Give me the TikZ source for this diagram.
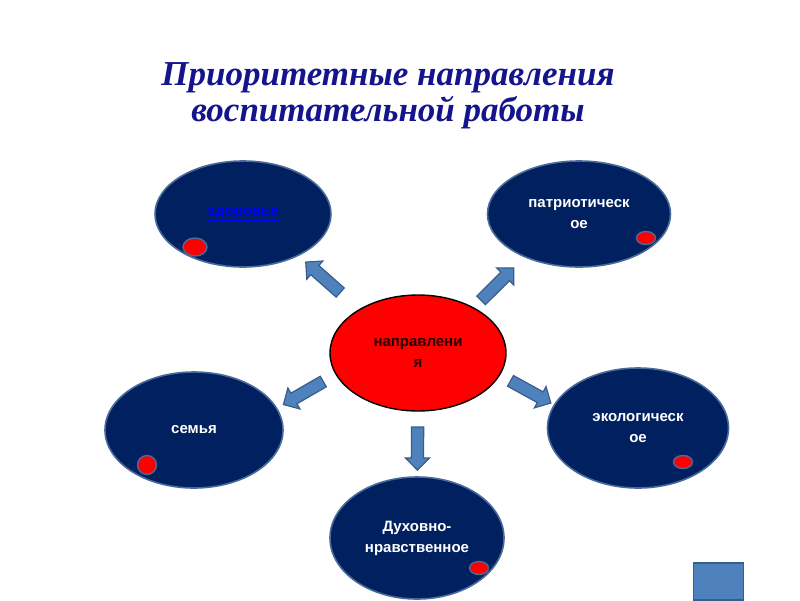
\documentclass[tikz,border=0pt]{standalone}
\usepackage{fontspec}
\setmainfont{Liberation Sans}
\newfontfamily\titlefont{Liberation Serif}
\usetikzlibrary{shapes.geometric,shapes.arrows}
\definecolor{navyfill}{HTML}{002060}
\definecolor{navyedge}{HTML}{4A6A9A}
\definecolor{arrowfill}{HTML}{4F81BD}
\definecolor{arrowedge}{HTML}{385D8A}
\definecolor{titleink}{HTML}{14148C}
\definecolor{linkblue}{HTML}{0000FF}

\begin{document}
\begin{tikzpicture}[
  x=1pt,y=-1pt,font=\bfseries\fontsize{15}{21}\selectfont,
  area/.style={ellipse,draw=navyedge,line width=1.6pt,fill=navyfill,
    text=white,align=center,inner sep=1pt},
  hub/.style={ellipse,draw=black,line width=1.4pt,fill=red,
    text=black!85!red,align=center,inner sep=1pt,
    minimum width=176pt,minimum height=116pt},
  marker/.style={ellipse,draw=navyedge,line width=1.4pt,fill=red,
    inner sep=0pt,minimum width=19pt,minimum height=13pt},
  blockarrow/.style={single arrow,draw=arrowedge,line width=1.2pt,fill=arrowfill,
    inner sep=5.5pt,minimum width=23pt,minimum height=46pt,
    single arrow head extend=6pt,sloped,allow upside down},
  navbox/.style={rectangle,draw=arrowedge,line width=1.6pt,fill=arrowfill,
    minimum width=50pt,minimum height=37pt,inner sep=0pt}
]
\path[use as bounding box] (0,0) rectangle (800,600);

% title
\node[font=\titlefont\bfseries\itshape\fontsize{35}{36}\selectfont,text=titleink,
  align=center] (title) at (388,96) {Приоритетные направления\\воспитательной работы};

% centre and the five areas
\node[hub] (dir) at (418,353) {направлени\\я};
\node[area,minimum width=176pt,minimum height=106pt] (health) at (243,214)
  {\textcolor{linkblue}{\underline{здоровье}}};
\node[area,minimum width=183pt,minimum height=106pt] (patriot) at (579,214)
  {патриотическ\\ое};
\node[area,minimum width=178pt,minimum height=116pt] (family) at (194,430) {семья};
\node[area,minimum width=181pt,minimum height=120pt] (ecology) at (638,428)
  {экологическ\\ое};
\node[area,minimum width=174pt,minimum height=122pt] (moral) at (417,538)
  {Духовно-\\нравственное};

\node[marker,minimum width=24pt,minimum height=18pt] (dotHealth) at (195,247) {};
\node[marker] (dotPatriot) at (646,238) {};
\node[marker,minimum width=19pt,minimum height=19pt] (dotFamily) at (147,465) {};
\node[marker] (dotEcology) at (683,462) {};
\node[marker] (dotMoral) at (479,568) {};

% block arrows from the centre outwards
\path (dir.center) -- node[blockarrow,pos=.53,rotate=-3] (toHealth) {} (health.center);
\path (dir.center) -- node[blockarrow,pos=.48,rotate=4] (toPatriot) {} (patriot.center);
\path (dir.center) -- node[blockarrow,pos=.5,rotate=11] (toFamily) {} (family.center);
\path (dir.center) -- node[blockarrow,pos=.5,rotate=-10] (toEcology) {} (ecology.center);
\path (dir.center) -- node[blockarrow,pos=.5,minimum height=43pt] (toMoral) {} (moral.center);

\node[navbox] (navbtn) at (718.5,581.5) {};
\end{tikzpicture}
\end{document}
